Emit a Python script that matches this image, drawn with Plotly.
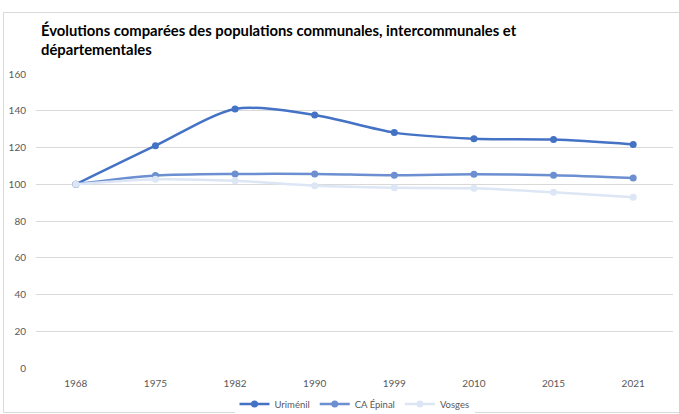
import plotly.graph_objects as go

years = ["1968", "1975", "1982", "1990", "1999", "2010", "2015", "2021"]
urimenil = [100, 121.0, 141.0, 137.7, 128.1, 124.8, 124.3, 121.7]
ca_epinal = [100, 104.7, 105.6, 105.6, 104.9, 105.4, 104.9, 103.4]
vosges = [100, 102.7, 101.9, 99.2, 98.1, 97.8, 95.6, 92.9]

series = [
    ("Uriménil", urimenil, "#4472C4"),
    ("CA Épinal", ca_epinal, "#6C8FD1"),
    ("Vosges", vosges, "#DCE6F5"),
]

W, H = 679, 414
L, R, T, B = 36, 6, 74, 46
pw, ph = W - L - R, H - T - B

def px(x):
    return (x - L) / pw

def py(y):
    return (H - B - y) / ph

fig = go.Figure()
for name, vals, col in series:
    fig.add_trace(go.Scatter(
        x=years, y=vals, name=name, mode="lines+markers",
        line=dict(color=col, width=2.5, shape="spline", smoothing=0.8),
        marker=dict(color=col, size=7),
    ))

fig.update_layout(
    width=W, height=H,
    margin=dict(l=L, r=R, t=T, b=B, autoexpand=False),
    paper_bgcolor="white", plot_bgcolor="white",
    font=dict(family="Lato, Open Sans, sans-serif", color="#595959", size=10),
    showlegend=True,
    legend=dict(orientation="h", x=0.5, xanchor="center", y=py(404), yanchor="middle",
                font=dict(size=9.5, color="#595959"), itemwidth=30, traceorder="normal"),
    xaxis=dict(type="category", range=[-0.5, len(years) - 0.5], showgrid=False,
               showline=False, zeroline=False, ticks="",
               tickfont=dict(size=10, color="#595959"), automargin=False,
               ticklabelstandoff=8),
    yaxis=dict(range=[0, 160], dtick=20, showgrid=True, gridcolor="#D9D9D9", gridwidth=1,
               zeroline=False, showline=False, ticks="", tickfont=dict(size=10, color="#595959"),
               ticklabelstandoff=9, automargin=False),
    shapes=[dict(type="rect", xref="paper", yref="paper",
                 x0=px(3.5), x1=px(680), y0=py(412.5), y1=py(12.5),
                 line=dict(color="#D9D9D9", width=1), layer="above")],
    annotations=[dict(
        text="<b>Évolutions comparées des populations communales, intercommunales et<br>départementales</b>",
        xref="paper", yref="paper", x=px(39), y=py(19), xanchor="left", yanchor="top",
        align="left", showarrow=False,
        font=dict(family="Lato, Open Sans, sans-serif", size=14.8, color="#000000"))],
)

fig.write_html("out.html", config={"displayModeBar": False},
               post_script="document.body.style.margin='0';document.body.style.overflow='hidden';")
